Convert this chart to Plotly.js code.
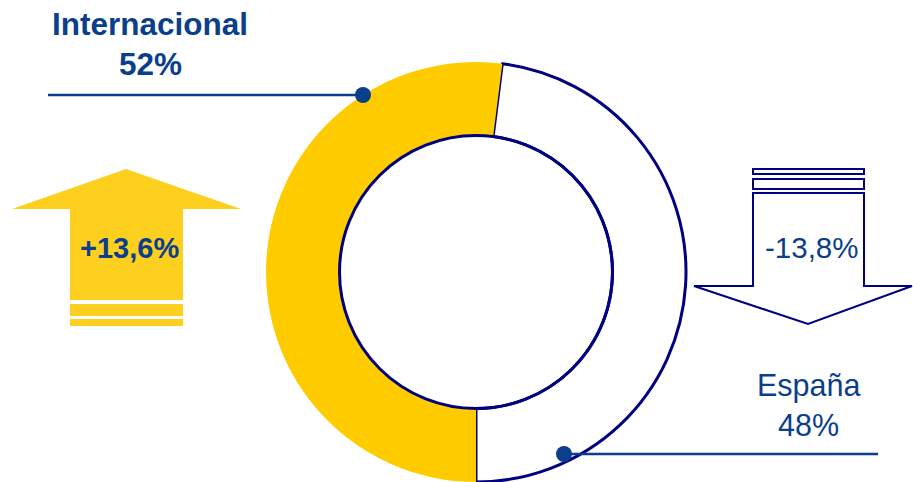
<!DOCTYPE html>
<html>
<head>
<meta charset="utf-8">
<script src="https://cdn.plot.ly/plotly-3.0.1.min.js"></script>
<style>html,body{margin:0;padding:0;background:#fff;}#chart{width:913px;height:482px;}</style>
</head>
<body>
<div id="chart"></div>
<script>
// ---- data ----
var labels = ['España', 'Internacional'];
var values = [48, 52];
var shareText = ['48%', '52%'];
var changeText = ['-13,8%', '+13,6%'];

// ---- styling ----
var W = 913, H = 482;
var NAVY = '#000080';
var TEXT = '#0B3F8B';
var YELLOW = '#FFCC00';
var FONT = 'Liberation Sans, Arial, sans-serif';
function X(px) { return px / W; }
function Y(py) { return 1 - py / H; }
function P(pts) {
  return pts.map(function (p, i) { return (i ? 'L' : 'M') + X(p[0]).toFixed(5) + ',' + Y(p[1]).toFixed(5); }).join(' ') + ' Z';
}

var cx = 476, cy = 272, R = 210, hole = 0.65;
var r = R * hole;

var pie = {
  type: 'pie',
  labels: labels,
  values: values,
  sort: false,
  direction: 'clockwise',
  rotation: 180 - values[0] / (values[0] + values[1]) * 360,
  hole: hole,
  textinfo: 'none',
  hoverinfo: 'none',
  showlegend: false,
  marker: {
    colors: ['#FFFFFF', YELLOW],
    line: { color: [NAVY, 'rgba(0,0,0,0)'], width: [3, 0] }
  },
  domain: { x: [X(cx - R), X(cx + R)], y: [Y(cy + R), Y(cy - R)] }
};

var shapes = [
  // inner ring outline
  { type: 'circle', xref: 'paper', yref: 'paper', x0: X(cx - r), x1: X(cx + r), y0: Y(cy + r), y1: Y(cy - r),
    line: { color: NAVY, width: 3 }, fillcolor: 'rgba(0,0,0,0)', layer: 'above' },
  // up arrow (yellow)
  { type: 'path', xref: 'paper', yref: 'paper', path: P([[12,209],[126,169],[241,209],[183,209],[183,300],[70,300],[70,209]]),
    fillcolor: '#FDCF1E', line: { width: 0 } },
  { type: 'rect', xref: 'paper', yref: 'paper', x0: X(70), x1: X(183), y0: Y(316), y1: Y(304), fillcolor: '#FDCF1E', line: { width: 0 } },
  { type: 'rect', xref: 'paper', yref: 'paper', x0: X(70), x1: X(183), y0: Y(326), y1: Y(319), fillcolor: '#FDCF1E', line: { width: 0 } },
  // down arrow (outline)
  { type: 'path', xref: 'paper', yref: 'paper', path: P([[753,193],[864,193],[864,286],[912,286],[808,324],[694,286],[753,286]]),
    fillcolor: '#FFFFFF', line: { color: NAVY, width: 2 }, layer: 'above' },
  { type: 'rect', xref: 'paper', yref: 'paper', x0: X(753), x1: X(864), y0: Y(174), y1: Y(169), fillcolor: '#FFFFFF', line: { color: NAVY, width: 2 } },
  { type: 'rect', xref: 'paper', yref: 'paper', x0: X(753), x1: X(864), y0: Y(189), y1: Y(179), fillcolor: '#FFFFFF', line: { color: NAVY, width: 2 } },
  // leader lines
  { type: 'line', xref: 'paper', yref: 'paper', x0: X(48), x1: X(363), y0: Y(95), y1: Y(95), line: { color: TEXT, width: 2.5 }, layer: 'above' },
  { type: 'line', xref: 'paper', yref: 'paper', x0: X(564), x1: X(878), y0: Y(454), y1: Y(454), line: { color: TEXT, width: 2.5 }, layer: 'above' },
  { type: 'circle', xref: 'paper', yref: 'paper', x0: X(355), x1: X(371), y0: Y(103), y1: Y(87), fillcolor: TEXT, line: { width: 0 }, layer: 'above' },
  { type: 'circle', xref: 'paper', yref: 'paper', x0: X(556), x1: X(572), y0: Y(462), y1: Y(446), fillcolor: TEXT, line: { width: 0 }, layer: 'above' }
];

function ann(text, x, y, size, bold) {
  return { text: bold ? '<b>' + text + '</b>' : text, xref: 'paper', yref: 'paper', x: X(x), y: Y(y),
    xanchor: 'center', yanchor: 'middle', showarrow: false,
    font: { family: FONT, size: size, color: TEXT } };
}

var annotations = [
  ann(labels[1], 150, 24, 31.5, true),
  ann(shareText[1], 150, 64, 31.5, true),
  ann(labels[0], 808, 385, 30.5, false),
  ann(shareText[0], 808, 425, 30.5, false),
  ann(changeText[1], 129, 248, 29, true),
  ann(changeText[0], 811, 248, 29.5, false)
];

var layout = {
  width: W, height: H,
  margin: { l: 0, r: 0, t: 0, b: 0 },
  paper_bgcolor: '#FFFFFF',
  plot_bgcolor: '#FFFFFF',
  shapes: shapes,
  annotations: annotations,
  showlegend: false
};

Plotly.newPlot('chart', [pie], layout, { displayModeBar: false, staticPlot: true });
</script>
</body>
</html>
